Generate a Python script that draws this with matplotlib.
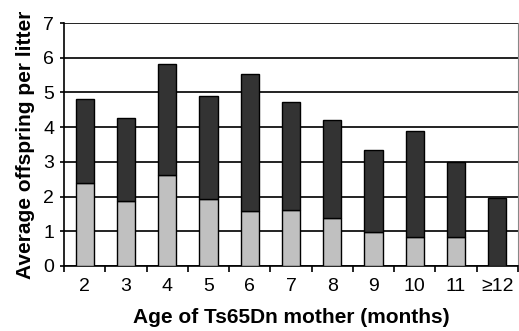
import numpy as np
import matplotlib
matplotlib.use("Agg")
import matplotlib.pyplot as plt

plt.rcParams['font.family'] = ['Liberation Sans', 'DejaVu Sans']

ages = ["2", "3", "4", "5", "6", "7", "8", "9", "10", "11", "\u226512"]
light = [2.39, 1.88, 2.63, 1.93, 1.58, 1.61, 1.38, 0.99, 0.83, 0.83, 0.0]
total = [4.80, 4.25, 5.82, 4.90, 5.53, 4.71, 4.22, 3.35, 3.90, 2.99, 1.96]
dark = [t - l for t, l in zip(total, light)]

fig = plt.figure(figsize=(5.19, 3.31), dpi=100)
ax = fig.add_axes([0.1233, 0.1964, 0.8747, 0.7341])

x = np.arange(len(ages))
ax.bar(x, light, width=0.44, color="#c0c0c0", edgecolor="black", linewidth=1.0, zorder=3)
ax.bar(x, dark, bottom=light, width=0.44, color="#333333", edgecolor="black", linewidth=1.0, zorder=3)

ax.set_xlim(-0.5, len(ages) - 0.5)
ax.set_ylim(0, 7)
ax.set_yticks(range(0, 8))
ax.yaxis.grid(True, color="#222222", linewidth=1.4, zorder=0)
ax.set_axisbelow(True)

ax.set_xticks(x)
ax.set_xticklabels(ages)
ax.set_xticks(np.arange(-0.5, len(ages) + 0.5, 1), minor=True)
ax.tick_params(axis="x", which="major", length=0, pad=9, labelsize=14)
ax.tick_params(axis="x", which="minor", length=4, width=1.2, direction="out")
ax.tick_params(axis="y", length=3, width=1.2, labelsize=14, pad=4)

ax.spines["top"].set_visible(False)
ax.spines["left"].set_linewidth(1.2)
ax.spines["bottom"].set_linewidth(1.2)
ax.spines["right"].set_color("#888888")
ax.spines["right"].set_linewidth(0.8)

ax.set_xlabel("Age of Ts65Dn mother (months)", fontsize=15, fontweight="bold", labelpad=9)
ax.set_ylabel("Average offspring per litter", fontsize=15, fontweight="bold", labelpad=6)

fig.savefig("out.png", dpi=100)
